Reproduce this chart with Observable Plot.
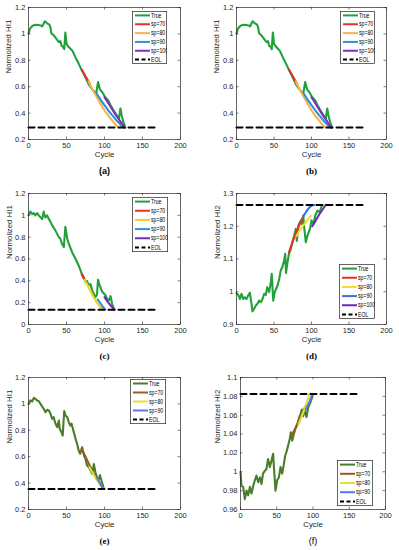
<!DOCTYPE html>
<html><head><meta charset="utf-8">
<script src="https://cdn.jsdelivr.net/npm/d3@7"></script>
<script src="https://cdn.jsdelivr.net/npm/@observablehq/plot@0.6"></script>
<style>
body{margin:0;background:#fff;}
#fig{position:relative;width:399px;height:550px;overflow:hidden;background:#fff;}
.panel{position:absolute;}
.leg{position:absolute;}
</style>
</head><body><div id="fig"></div>
<script>
// ---------- tick values ----------
const xTicks = [0, 50, 100, 150, 200];
const yTicksHI1 = [0.2, 0.4, 0.6, 0.8, 1, 1.2];
const yTicksC = [0, 0.2, 0.4, 0.6, 0.8, 1, 1.2];
const yTicksD = [0.9, 1, 1.1, 1.2, 1.3];
const yTicksF = [0.96, 0.98, 1, 1.02, 1.04, 1.06, 1.08, 1.1];

// ---------- legend labels ----------
const legend5 = ["True", "sp=70", "sp=80", "sp=90", "sp=100", "EOL"];
const legend4 = ["True", "sp=70", "sp=80", "sp=90", "EOL"];

// ---------- panel (a)/(b): HI1 ----------
const aTrue = [[0,1.0],[2,1.04],[5,1.06],[8,1.068],[11,1.069],[16,1.064],[18,1.056],[21.5,1.096],[24.5,1.08],[27.5,1.07],[29,1.045],[30,1.006],[33,0.99],[35,0.975],[37,0.96],[40,0.937],[42,0.945],[43.5,0.91],[45,0.905],[47,0.885],[48.5,1.01],[50,0.925],[53,0.90],[57.5,0.875],[62,0.82],[66,0.775],[70.5,0.72],[75,0.67],[79,0.62],[84,0.58],[89,0.545],[91.5,0.635],[94,0.58],[97,0.56],[101,0.52],[105,0.495],[108,0.46],[112,0.42],[116.5,0.38],[119,0.36],[121,0.435],[123,0.37],[125,0.33],[127.5,0.29]];
const aSp70 = [[70,0.73],[73,0.70],[76,0.67],[79,0.64],[81,0.62]];
const aSp80 = [[79,0.64],[85,0.57],[90,0.52],[95,0.47],[100,0.42],[105,0.38],[110,0.345],[115,0.31],[119,0.29]];
const aSp90 = [[90,0.545],[95,0.5],[100,0.46],[105,0.42],[110,0.385],[115,0.35],[120,0.32],[125,0.29]];
const aSp100 = [[100,0.52],[105,0.475],[110,0.43],[115,0.385],[120,0.345],[124,0.31],[127,0.29]];
const aEOL = [[0,0.29],[170,0.29]];

// ---------- panel (c): HI1 ----------
const cTrue = [[0,1.0],[2.5,1.035],[5,1.01],[7,1.02],[9,1.0],[11.5,1.02],[13.5,1.0],[16,0.98],[18,0.965],[20,1.035],[22,0.98],[24.5,1.0],[26.5,0.97],[29,0.94],[31,0.91],[35.5,0.86],[40,0.80],[42,0.785],[44,0.74],[46.5,0.71],[48.5,0.895],[51,0.785],[53,0.74],[57.5,0.66],[62,0.60],[66,0.54],[70.5,0.46],[73,0.43],[75,0.39],[77,0.40],[79,0.36],[81.5,0.37],[84,0.31],[88,0.25],[90,0.27],[91.5,0.41],[93.5,0.36],[97,0.30],[101,0.27],[104,0.23],[106,0.22],[108,0.26],[110,0.19],[113,0.135]];
const cSp70 = [[70,0.46],[72,0.43],[74,0.41]];
const cSp80 = [[74,0.41],[80,0.33],[85,0.26],[90,0.2],[95,0.155],[98,0.135]];
const cSp90 = [[91,0.23],[94,0.2],[97,0.17],[101,0.135]];
const cSp100 = [[100,0.25],[104,0.21],[108,0.175],[113,0.135]];
const cEOL = [[0,0.135],[170,0.135]];

// ---------- panel (d): HI2 ----------
const dTrue = [[0,0.996],[2.7,0.989],[4.4,0.978],[6.7,0.994],[8.9,0.978],[11,0.983],[13.3,0.978],[15.6,0.989],[17.8,0.997],[20,0.963],[21.3,0.94],[23.5,0.948],[25.8,0.958],[28,0.963],[30,0.973],[32.4,0.968],[34.7,0.978],[36.9,0.994],[39,0.99],[41,1.014],[43.5,0.999],[45.8,1.029],[47,1.055],[49,0.973],[51,0.999],[54.7,1.019],[57,1.04],[59,1.065],[61,1.075],[63.5,1.095],[65,1.116],[66,1.057],[68,1.09],[70,1.116],[72.4,1.131],[74.7,1.151],[77,1.172],[79,1.192],[80.4,1.155],[82.7,1.204],[85.8,1.218],[87,1.207],[89,1.233],[90,1.202],[92.4,1.151],[94.7,1.172],[98,1.192],[100,1.218],[102.7,1.208],[105,1.233],[108,1.248],[111,1.243],[114,1.265]];
const dSp70 = [[70,1.12],[75,1.155],[80,1.185],[85,1.21],[88,1.225]];
const dSp80 = [[80,1.17],[85,1.19],[90,1.205],[95,1.22],[99,1.232]];
const dSp90 = [[89,1.23],[93,1.245],[97,1.257],[101,1.264],[104,1.265]];
const dSp100 = [[101,1.2],[105,1.215],[110,1.235],[115,1.252],[119,1.265]];
const dEOL = [[0,1.265],[170,1.265]];

// ---------- panel (e): HI1 ----------
const eTrue = [[0,1.0],[2.6,1.026],[4.8,1.018],[7,1.046],[9.2,1.038],[11.4,1.026],[13.6,1.02],[15.8,1.0],[18,0.98],[20,0.963],[22.4,0.937],[24.6,0.955],[26.8,0.95],[29,0.925],[31,0.887],[33,0.9],[35.5,0.85],[37.7,0.824],[40,0.874],[41,0.811],[43.4,0.786],[45,0.76],[47,0.945],[48.7,0.912],[51,0.9],[53,0.862],[55,0.836],[56.6,0.85],[59.6,0.786],[62,0.735],[64,0.697],[66,0.647],[68,0.622],[70.6,0.672],[73,0.609],[75,0.584],[77,0.533],[79.4,0.52],[81.6,0.495],[83.8,0.47],[86,0.545],[88,0.482],[90,0.445],[92,0.42],[94,0.46],[96,0.42],[98,0.38],[99,0.355]];
const eSp70 = [[70,0.66],[75,0.6],[80,0.54],[85,0.48],[88,0.45]];
const eSp80 = [[80,0.52],[85,0.47],[90,0.42],[95,0.38],[98,0.36]];
const eSp90 = [[90,0.44],[94,0.4],[98,0.356]];
const eEOL = [[0,0.355],[170,0.355]];

// ---------- panel (f): HI2 ----------
const fTrue = [[0,1.0],[1.4,0.985],[3.7,0.984],[6,0.971],[8.3,0.98],[10.6,0.975],[12.9,0.984],[15.2,0.977],[17.5,0.985],[19.8,0.991],[22,0.996],[24.4,0.989],[27,0.994],[29,0.987],[31,0.998],[33.6,1.001],[35.9,1.003],[38,1.0136],[40.5,1.005],[42.8,1.012],[45,1.019],[46.4,1.001],[48.3,0.98],[50.6,0.991],[52.9,0.994],[55.2,1.005],[57.5,0.998],[59.8,1.008],[61.6,1.017],[63.4,1.021],[65.7,1.028],[68,1.035],[69.4,1.042],[71.3,1.033],[73.6,1.04],[76.3,1.047],[78.6,1.051],[81,1.058],[82.8,1.061],[84.6,1.066],[86.4,1.059],[88.7,1.065],[91,1.058],[93.3,1.068],[95.6,1.072],[98,1.077],[100,1.082]];
const fSp70 = [[70,1.038],[75,1.045],[80,1.053],[85,1.062],[90,1.07]];
const fSp80 = [[80,1.05],[85,1.06],[90,1.07],[95,1.0825]];
const fSp90 = [[90,1.066],[95,1.074],[99,1.0825]];
const fEOL = [[0,1.0825],[165,1.0825]];

// ---------- colours ----------
const colAB = ["#22a03c", "#e8302a", "#f8b44c", "#2a90d8", "#7d30c0", "#000"];
const colC  = ["#22a03c", "#e8302a", "#f0d21c", "#3090e0", "#7030a8", "#000"];
const colD  = ["#22a03c", "#e8302a", "#eede30", "#3a70e0", "#6a2cb8", "#000"];
const colEF = ["#4a7d2a", "#9a5b20", "#e2e23a", "#5878e8", "#000"];

const fmt = d => String(Math.round(d * 100) / 100);
const sans = "Liberation Sans, Arial, Helvetica, sans-serif";
const serif = "Liberation Serif, Times New Roman, serif";

const panels = [
  {x0:0, y0:0, w:200, L:28, R:180, T:7, B:139, yd:[0.2,1.2], yt:yTicksHI1, ylab:"Normolized HI1", ydx:-20,
   series:[aTrue,aSp70,aSp80,aSp90,aSp100], eol:aEOL, cols:colAB, cap:"(a)", capFont:sans, capW:"bold",
   leg:{left:132, top:11, w:35, h:53, labels:legend5}},
  {x0:200, y0:0, w:199, L:236, R:386, T:7, B:139, yd:[0.2,1.2], yt:yTicksHI1, ylab:"Normolized HI1", ydx:-20,
   series:[aTrue,aSp70,aSp80,aSp90,aSp100], eol:aEOL, cols:colAB, cap:"(b)", capFont:serif, capW:"bold",
   leg:{left:340, top:11, w:35, h:53, labels:legend5}},
  {x0:0, y0:180, w:200, L:28, R:180, T:193, B:324, yd:[0,1.2], yt:yTicksC, ylab:"Normolized HI1", ydx:-19,
   series:[cTrue,cSp70,cSp80,cSp90,cSp100], eol:cEOL, cols:colC, cap:"(c)", capFont:serif, capW:"bold",
   leg:{left:132, top:197, w:36, h:55, labels:legend5}},
  {x0:200, y0:180, w:199, L:236, R:386, T:193, B:324, yd:[0.9,1.3], yt:yTicksD, ylab:"Normolized HI2", ydx:-19.5,
   series:[dTrue,dSp70,dSp80,dSp90,dSp100], eol:dEOL, cols:colD, cap:"(d)", capFont:serif, capW:"bold",
   leg:{left:339, top:264, w:36, h:55, labels:legend5}},
  {x0:0, y0:360, w:200, L:28, R:180, T:377, B:509, yd:[0.2,1.2], yt:yTicksHI1, ylab:"Normolized HI1", ydx:-19,
   series:[eTrue,eSp70,eSp80,eSp90], eol:eEOL, cols:colEF, cap:"(e)", capFont:serif, capW:"bold",
   leg:{left:130, top:379, w:36, h:45, labels:legend4}},
  {x0:200, y0:360, w:199, L:240, R:385, T:377, B:509, yd:[0.96,1.1], yt:yTicksF, ylab:"Normolized HI2", ydx:-23,
   series:[fTrue,fSp70,fSp80,fSp90], eol:fEOL, cols:colEF, cap:"(f)", capFont:sans, capW:"normal",
   leg:{left:337, top:460, w:36, h:46, labels:legend4}}
];

const fig = document.getElementById("fig");

for (const p of panels) {
  const H = p.B - p.y0 + 42;
  const fw = p.R - p.L, fh = p.B - p.T;
  const lines = p.series.map((s, i) => Plot.line(s, {x: d => d[0], y: d => d[1], stroke: p.cols[i], strokeWidth: 2.1}));
  const svg = Plot.plot({
    width: p.w, height: H,
    marginLeft: p.L - p.x0, marginRight: p.x0 + p.w - p.R,
    marginTop: p.T - p.y0, marginBottom: p.y0 + H - p.B,
    x: {domain: [0, 200]},
    y: {domain: p.yd},
    style: {fontFamily: sans, fontSize: "7.5px", color: "#262626", background: "transparent", overflow: "visible"},
    marks: [
      Plot.axisX({ticks: xTicks, tickSize: 0, tickPadding: 3, tickFormat: fmt, label: null, fontSize: 7.5}),
      Plot.axisY({ticks: p.yt, tickSize: 0, tickPadding: 3, tickFormat: fmt, label: null, fontSize: 7.5}),
      Plot.tickX(xTicks, {x: d => d, insetTop: fh - 2.5, stroke: "#262626", strokeWidth: 0.6}),
      Plot.tickX(xTicks, {x: d => d, insetBottom: fh - 2.5, stroke: "#262626", strokeWidth: 0.6}),
      Plot.tickY(p.yt, {y: d => d, insetRight: fw - 2.5, stroke: "#262626", strokeWidth: 0.6}),
      Plot.tickY(p.yt, {y: d => d, insetLeft: fw - 2.5, stroke: "#262626", strokeWidth: 0.6}),
      ...lines,
      Plot.line(p.eol, {x: d => d[0], y: d => d[1], stroke: "#000", strokeWidth: 2, strokeDasharray: "6,4"}),
      Plot.frame({stroke: "#262626", strokeWidth: 0.7}),
      Plot.text(["Cycle"], {text: d => d, frameAnchor: "bottom", dy: 17.5, fontSize: 7.8, fill: "#262626"}),
      Plot.text([p.ylab], {text: d => d, frameAnchor: "left", dx: p.ydx, rotate: -90, fontSize: 7.8, fill: "#262626"}),
      Plot.text([p.cap], {text: d => d, frameAnchor: "bottom", dy: 34, fontSize: 9, fontFamily: p.capFont, fontWeight: p.capW, fill: "#000"})
    ]
  });
  svg.classList.add("panel");
  svg.style.left = p.x0 + "px";
  svg.style.top = p.y0 + "px";
  fig.appendChild(svg);

  // legend box
  const lg = p.leg;
  const ns = "http://www.w3.org/2000/svg";
  const ls = document.createElementNS(ns, "svg");
  ls.setAttribute("width", lg.w); ls.setAttribute("height", lg.h);
  ls.setAttribute("class", "leg");
  ls.style.left = lg.left + "px"; ls.style.top = lg.top + "px";
  const rect = document.createElementNS(ns, "rect");
  rect.setAttribute("x", 0.35); rect.setAttribute("y", 0.35);
  rect.setAttribute("width", lg.w - 0.7); rect.setAttribute("height", lg.h - 0.7);
  rect.setAttribute("fill", "#fff"); rect.setAttribute("stroke", "#262626"); rect.setAttribute("stroke-width", 0.7);
  ls.appendChild(rect);
  const n = lg.labels.length, rh = lg.h / n;
  lg.labels.forEach((lab, i) => {
    const cy = (i + 0.5) * rh;
    const ln = document.createElementNS(ns, "line");
    ln.setAttribute("x1", 3); ln.setAttribute("x2", 18);
    ln.setAttribute("y1", cy); ln.setAttribute("y2", cy);
    const col = i === n - 1 ? "#000" : p.cols[i];
    ln.setAttribute("stroke", col); ln.setAttribute("stroke-width", 2);
    if (i === n - 1) ln.setAttribute("stroke-dasharray", "4,2.5");
    ls.appendChild(ln);
    const tx = document.createElementNS(ns, "text");
    tx.setAttribute("transform", `translate(19,${cy}) scale(0.78,1)`);
    tx.setAttribute("dominant-baseline", "central");
    tx.setAttribute("font-family", sans);
    tx.setAttribute("font-size", 6.6);
    tx.setAttribute("fill", "#000");
    tx.textContent = lab;
    ls.appendChild(tx);
  });
  fig.appendChild(ls);
}
</script>
</body></html>
